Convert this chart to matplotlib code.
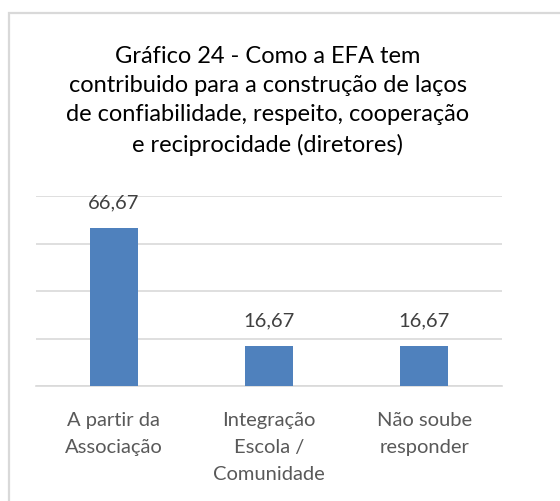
import matplotlib
matplotlib.use("Agg")
import matplotlib.pyplot as plt
from matplotlib.patches import Rectangle

# Chart data
categories = ["A partir da\nAssociação", "Integração\nEscola /\nComunidade", "Não soube\nresponder"]
values = [66.67, 16.67, 16.67]
value_labels = ["66,67", "16,67", "16,67"]
title = ("Gráfico 24 - Como a EFA tem\ncontribuido para a construção de laços\n"
         "de confiabilidade, respeito, cooperação\ne reciprocidade (diretores)")

W, H = 560, 501
DPI = 100
plt.rcParams["font.family"] = ["Lato", "DejaVu Sans"]

fig = plt.figure(figsize=(W / DPI, H / DPI), dpi=DPI)
fig.patch.set_facecolor("white")

# Chart area border (runs off the right and bottom edges)
fig.patches.append(Rectangle((8.5 / W, -0.1), 1.2, 1 - 12.5 / H + 0.1,
                             transform=fig.transFigure, fill=False,
                             edgecolor="#d9d9d9", linewidth=1.6))

left, right = 36 / W, 502 / W
bottom, top = 1 - 386 / H, 1 - 196 / H
ax = fig.add_axes([left, bottom, right - left, top - bottom])

x = list(range(len(categories)))
bars = ax.bar(x, values, width=0.31, color="#4f81bd", zorder=3)
ax.set_xlim(-0.5, len(categories) - 0.5)
ax.set_ylim(0, 80)
ax.set_yticks([0, 20, 40, 60, 80])
ax.yaxis.grid(True, color="#d9d9d9", linewidth=1.2, zorder=0)
ax.tick_params(axis="y", left=False, labelleft=False)
ax.tick_params(axis="x", bottom=False, pad=15)
ax.set_xticks(x)
ax.set_xticklabels(categories, fontsize=14.5, color="#595959", linespacing=1.72)
for s in ["left", "right", "top"]:
    ax.spines[s].set_visible(False)
ax.spines["bottom"].set_color("#d9d9d9")
ax.spines["bottom"].set_linewidth(1.2)

for b, lab in zip(bars, value_labels):
    ax.annotate(lab, (b.get_x() + b.get_width() / 2, b.get_height()),
                xytext=(0, 12), textcoords="offset points",
                ha="center", va="bottom", fontsize=14.5, color="#404040")

fig.text(268 / W, 1 - 101 / H, title, ha="center", va="center",
         fontsize=17, color="#000000", linespacing=1.47)

fig.savefig("out.png", dpi=DPI, facecolor="white")
